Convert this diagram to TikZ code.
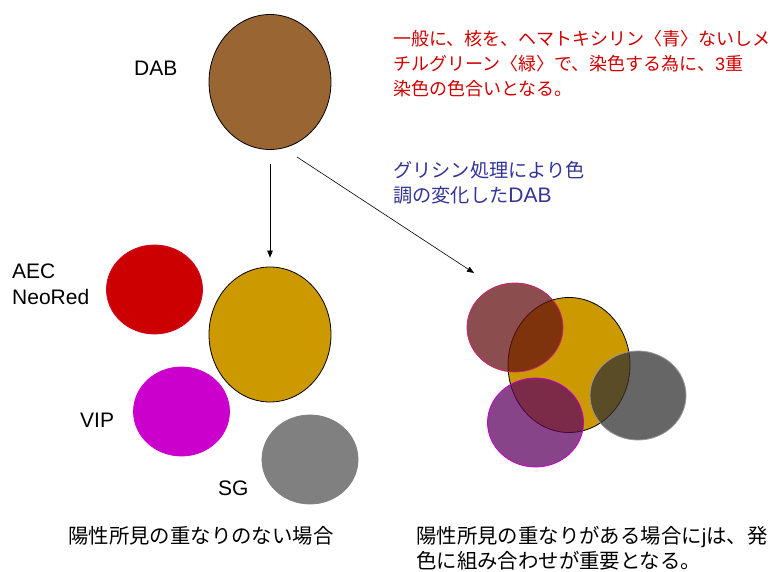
\documentclass[tikz,border=0pt]{standalone}
\usepackage{fontspec}
\setmainfont{Liberation Sans}
\newfontfamily\jp{Noto Sans CJK JP}
\usetikzlibrary{shapes.geometric,arrows.meta}
\definecolor{dabbrown}{HTML}{996633}
\definecolor{gold}{HTML}{CC9900}
\definecolor{aecred}{HTML}{CC0000}
\definecolor{vipmag}{HTML}{CC00CC}
\definecolor{sggray}{HTML}{808080}
\definecolor{redtext}{HTML}{D00000}
\definecolor{bluetext}{HTML}{333399}
\definecolor{ovred}{RGB}{100,17,17}
\definecolor{ovpur}{RGB}{96,5,96}
\definecolor{ovgray}{RGB}{51,51,51}
\definecolor{pinkedge}{HTML}{D02070}
\tikzset{
  big/.style={ellipse, inner sep=0pt, minimum width=122pt, minimum height=135pt, draw=black, line width=0.8pt},
  small/.style={ellipse, inner sep=0pt, minimum width=96pt, minimum height=89pt, line width=0.8pt},
  arr/.style={-{Triangle[length=7pt,width=5.5pt]}, line width=0.6pt},
  lab/.style={anchor=west, inner sep=0pt, font=\fontsize{21}{25}\selectfont},
  jtxt/.style={anchor=west, inner sep=0pt, align=left},
}
\begin{document}
\begin{tikzpicture}[x=1pt,y=-1pt]
\useasboundingbox (0,0) rectangle (776,572);
% top DAB
\node[big, fill=dabbrown] (dab) at (270,82) {};
\node[lab] (dablab) at (134,68) {DAB};
% left group
\node[big, fill=gold] (gold) at (270,334.5) {};
\node[small, fill=aecred, draw=aecred!85!magenta] (aec) at (154.5,289.5) {};
\node[small, fill=vipmag, draw=vipmag] (vip) at (181.5,411.5) {};
\node[small, fill=sggray, draw=sggray] (sg) at (310,459.5) {};
\node[lab, align=left, font=\fontsize{21}{26}\selectfont] (aeclab) at (12,284.5) {AEC\\NeoRed};
\node[lab] (viplab) at (80,420) {VIP};
\node[lab] (sglab) at (218,488) {SG};
% arrows
\draw[arr, shorten <=14pt, shorten >=9pt] (dab.south) -- (gold.north);
\coordinate (ds) at (297,157);
\coordinate (de) at (474,273);
\draw[arr] (ds) -- (de);
% right group
\node[big, fill=gold] (gold2) at (569,365) {};
\node[small, fill=ovred, fill opacity=0.75, draw=pinkedge] (aec2) at (515,327.5) {};
\node[small, fill=ovpur, fill opacity=0.75, draw=vipmag] (vip2) at (535.5,422.5) {};
\node[small, fill=ovgray, fill opacity=0.75, draw=sggray!80] (sg2) at (638,395.5) {};
% texts
\node[jtxt, text=redtext, font=\jp\fontsize{18}{25}\selectfont] (note1) at (393,64)
  {一般に、核を、ヘマトキシリン〈青〉ないしメ\\チルグリーン〈緑〉で、染色する為に、{\rmfamily 3}重\\染色の色合いとなる。};
\node[jtxt, text=bluetext, font=\jp\fontsize{19.2}{25}\selectfont] (note2) at (393,182.5)
  {グリシン処理により色\\調の変化した{\rmfamily\fontsize{21}{25}\selectfont DAB}};
\node[jtxt, font=\jp\fontsize{20.4}{25}\selectfont] (cap1) at (68,536) {陽性所見の重なりのない場合};
\node[jtxt, font=\jp\fontsize{20.4}{25}\selectfont] (cap2) at (416,548.5)
  {陽性所見の重なりがある場合に{\rmfamily j}は、発\\色に組み合わせが重要となる。};
\end{tikzpicture}
\end{document}
